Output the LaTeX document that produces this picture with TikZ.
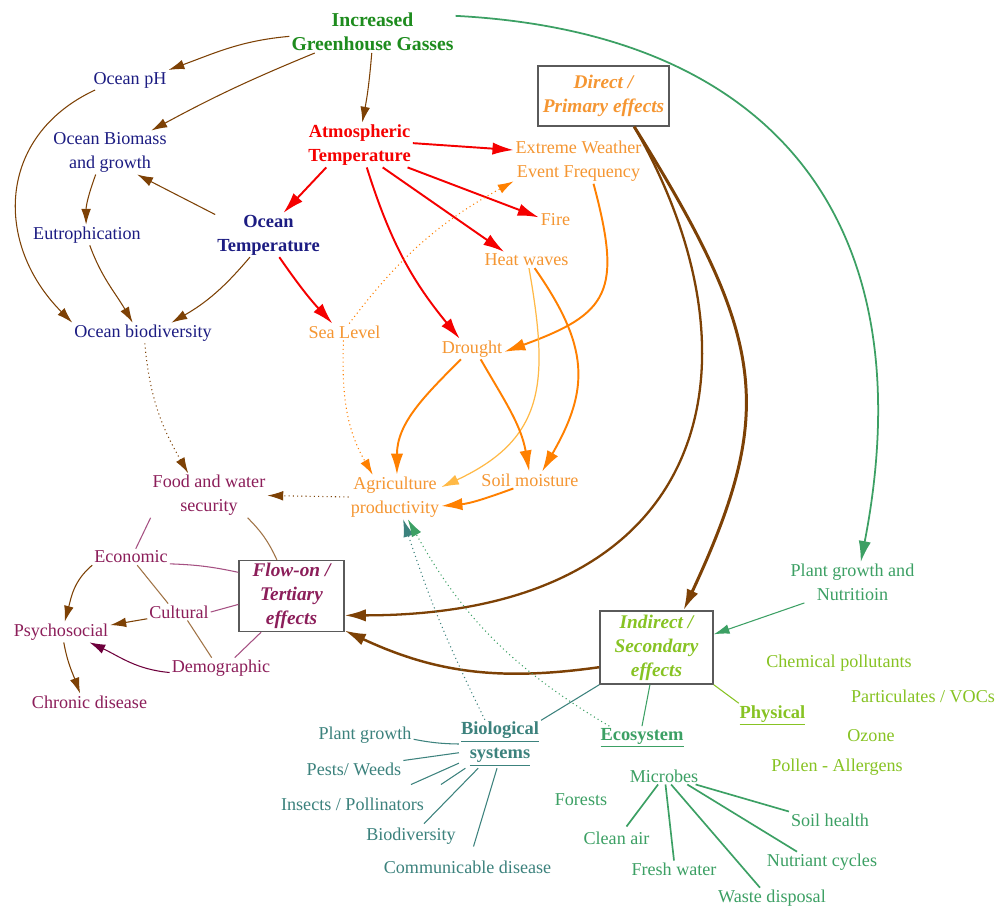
\documentclass[tikz,border=0pt]{standalone}
\usepackage{fontspec}
\setmainfont{Liberation Serif}
\usetikzlibrary{arrows.meta,calc}
\definecolor{ghgc}{RGB}{30,140,30}
\definecolor{navyc}{RGB}{28,28,130}
\definecolor{redc}{RGB}{245,0,0}
\definecolor{orangec}{RGB}{245,150,50}
\definecolor{orarr}{RGB}{255,128,0}
\definecolor{orlight}{RGB}{255,185,70}
\definecolor{brownc}{RGB}{125,65,5}
\definecolor{brownl}{RGB}{160,115,70}
\definecolor{purpc}{RGB}{140,30,90}
\definecolor{purpl}{RGB}{165,80,130}
\definecolor{purpd}{RGB}{110,0,60}
\definecolor{tealc}{RGB}{60,130,125}
\definecolor{ecoc}{RGB}{60,160,100}
\definecolor{ygc}{RGB}{135,195,35}
\definecolor{boxc}{RGB}{90,90,90}
\begin{document}
\begin{tikzpicture}[x=0.02cm,y=0.02cm,
  t/.style={inner sep=1pt,align=center,font=\fontsize{10.3}{13.6}\selectfont},
  tb/.style={inner sep=1pt,align=center,font=\fontsize{10.5}{13.6}\selectfont\bfseries},
  effbox/.style={draw=boxc,line width=0.8pt,fill=white,align=center,inner sep=1pt,
    font=\fontsize{11}{13.6}\selectfont\bfseries\itshape},
  tipbig/.style={-{Latex[length=12pt,width=7pt]}},
  tipmed/.style={-{Latex[length=9pt,width=5.5pt]}},
  tipdot/.style={-{Latex[length=10pt,width=6pt]}},
  thinbr/.style={draw=brownc,line width=0.6pt,tipmed},
  brline/.style={draw=brownl,line width=0.6pt},
  purline/.style={draw=purpl,line width=0.6pt},
  redarr/.style={draw=redc,line width=1.1pt,tipbig},
  orarrow/.style={draw=orarr,line width=1.1pt,tipbig},
  orlightarr/.style={draw=orlight,line width=0.7pt,-{Latex[length=10pt,width=6pt]}},
  ordot/.style={draw=orarr,line width=0.6pt,dash pattern=on 0.6pt off 1.8pt,tipmed},
  brdot/.style={draw=brownc,line width=0.6pt,dash pattern=on 0.6pt off 1.8pt,tipmed},
  tealdot/.style={draw=tealc,line width=0.6pt,dash pattern=on 0.6pt off 1.8pt,tipdot},
  ecodot/.style={draw=ecoc,line width=0.6pt,dash pattern=on 0.6pt off 1.8pt,tipdot},
  bigbr/.style={draw=brownc,tipbig},
  tealline/.style={draw=tealc,line width=0.6pt},
  ecoline/.style={draw=ecoc,line width=0.6pt},
  micline/.style={draw=ecoc,line width=0.95pt},
  ygline/.style={draw=ygc,line width=0.6pt}
]
\fill[white] (0,0) rectangle (998,-910);
\useasboundingbox (0,0) rectangle (998,-910);

% ---------- nodes ----------
\node[inner sep=1pt,align=center,font=\fontsize{11.2}{13.6}\selectfont\bfseries,text=ghgc] (ghg) at (372.5,-32) {Increased\\Greenhouse Gasses};
\node[t,text=navyc] (ph) at (130,-80) {Ocean pH};
\node[t,text=navyc] (biomass) at (110,-152.5) {Ocean Biomass\\and growth};
\node[t,text=navyc] (eutro) at (87,-235) {Eutrophication};
\node[t,text=navyc] (obio) at (143,-333) {Ocean biodiversity};
\node[tb,text=redc] (atm) at (359.5,-145) {Atmospheric\\Temperature};
\node[tb,text=navyc] (otemp) at (268.5,-235) {Ocean\\Temperature};
\node[t,text=orangec] (sea) at (344.5,-332) {Sea Level};
\node[t,text=orangec] (ext) at (578.5,-161.5) {Extreme Weather\\Event Frequency};
\node[t,text=orangec] (fire) at (555.5,-220) {Fire};
\node[t,text=orangec] (heat) at (526.5,-260) {Heat waves};
\node[t,text=orangec] (drought) at (472,-349) {Drought};
\node[t,text=orangec] (agri) at (395,-497) {Agriculture\\productivity};
\node[t,text=orangec] (soil) at (530,-480) {Soil moisture};
\node[effbox,text=orangec,minimum width=2.62cm,minimum height=1.2cm] (direct) at (603.5,-96) {Direct /\\Primary effects};

\node[t,text=purpc] (food) at (209,-495.5) {Food and water\\security};
\node[t,text=purpc] (econ) at (131,-557) {Economic};
\node[t,text=purpc] (cult) at (179,-612) {Cultural};
\node[t,text=purpc] (psycho) at (61,-632) {Psychosocial};
\node[t,text=purpc] (demo) at (221,-668) {Demographic};
\node[t,text=purpc] (chronic) at (89.5,-702) {Chronic disease};
\node[effbox,text=purpc,minimum width=2.1cm,minimum height=1.42cm] (flow) at (291.5,-596) {Flow-on /\\Tertiary\\effects};

\node[effbox,text=ygc,minimum width=2.26cm,minimum height=1.46cm] (indirect) at (656.5,-647.5) {Indirect /\\Secondary\\effects};
\node[t,text=ecoc] (plantn) at (852.5,-582.5) {Plant growth and\\Nutritioin};
\node[t,text=ygc] (chem) at (839,-663) {Chemical pollutants};
\node[t,text=ygc] (partic) at (923,-696) {Particulates / VOCs};
\node[t,text=ygc] (ozone) at (871,-736) {Ozone};
\node[t,text=ygc] (pollen) at (837,-767) {Pollen - Allergens};
\node[tb,text=ygc] (phys) at (772.5,-715.5) {\underline{Physical}};
\node[tb,text=ecoc] (eco) at (642,-738) {\underline{Ecosystem}};
\node[tb,text=tealc] (bio) at (500,-744) {\underline{Biological}\\\underline{systems}};

\node[t,text=tealc] (pg) at (365,-735) {Plant growth};
\node[t,text=tealc] (pests) at (354,-769) {Pests/ Weeds};
\node[t,text=tealc] (insects) at (352.5,-804) {Insects / Pollinators};
\node[t,text=tealc] (biodiv) at (411,-836) {Biodiversity};
\node[t,text=tealc] (comm) at (467.5,-867) {Communicable disease};

\node[t,text=ecoc] (microbes) at (664,-776) {Microbes};
\node[t,text=ecoc] (forests) at (581,-800) {Forests};
\node[t,text=ecoc] (cleanair) at (616.5,-838) {Clean air};
\node[t,text=ecoc] (fresh) at (674,-869) {Fresh water};
\node[t,text=ecoc] (waste) at (772,-898) {Waste disposal};
\node[t,text=ecoc] (nutr) at (822,-862) {Nutriant cycles};
\node[t,text=ecoc] (soilh) at (830,-820) {Soil health};

% ---------- ocean / greenhouse (brown thin) ----------
\draw[thinbr] (ghg.183) to[out=185,in=20] (ph.north east);
\draw[thinbr] (ghg.200) to[bend right=3] (biomass.28);
\draw[thinbr] (ghg.268) to[bend left=3] (atm.83);
\draw[thinbr] (ph.196) to[out=205,in=135,looseness=1.2] (obio.north west);
\draw[thinbr] (biomass.237) to[out=250,in=90] (eutro.95);
\draw[thinbr] (eutro.285) to[out=290,in=120] (obio.135);
\draw[thinbr] (otemp.159) -- (biomass.-39);
\draw[thinbr] (otemp.230) to[bend left=10] (obio.20);

% ---------- red ----------
\draw[redarr] (atm.214) -- (otemp.56);
\draw[redarr] (atm.2) -- (ext.170);
\draw[redarr] (atm.-25) -- (fire.171);
\draw[redarr] (atm.-44) -- (heat.160);
\draw[redarr] (atm.288) to[bend right=11] (drought.140);
\draw[redarr] (otemp.296) to[bend right=4] (sea.145);

% ---------- orange ----------
\draw[ordot] (sea.61) to[bend left=12] (ext.197);
\draw[ordot] (sea.263) to[out=268,in=120] (agri.135);
\draw[orarrow] (ext.-56) to[out=-75,in=20,looseness=1.5] (drought.-5);
\draw[orlightarr] (heat.287) to[out=-80,in=25,looseness=1.25] (agri.12);
\draw[orarrow] (heat.-45) to[out=-55,in=60,looseness=1.2] (soil.35);
\draw[orarrow] (drought.223) to[out=225,in=90] (agri.85);
\draw[orarrow] (drought.-50) to[out=-60,in=100] (soil.95);
\draw[orarrow] (soil.207) to[out=200,in=5] (agri.-11);

% ---------- brown dotted ----------
\draw[brdot] (agri.west) -- (food.east);
\draw[brdot] (obio.280) to[out=-85,in=120] (food.133);

% ---------- big brown ----------
\draw[bigbr,line width=1.3pt] (direct.-45) to[out=-60,in=0,out distance=5.4cm,in distance=7.4cm] (flow.-20);
\draw[bigbr,line width=1.7pt] (direct.-45) to[out=-58,in=65,out distance=5cm,in distance=4.4cm] (indirect.54);
\draw[bigbr,line width=1.4pt] (indirect.199) to[out=188,in=-25] (flow.-33);

% ---------- green ----------
\draw[draw=ecoc,line width=1pt,tipbig] (ghg.11) to[out=-3,in=79,looseness=1.25] (plantn.68);
\draw[draw=ecoc,line width=0.6pt,tipmed] (plantn.203) -- (indirect.13);
\draw[ygline] (indirect.south east) -- (phys.160);
\draw[ecoline] (indirect.260) -- (eco.north);
\draw[tealline] (indirect.south west) -- (bio.30);
\draw[tealdot] (bio.122) to[bend left=4] (agri.-70);
\draw[ecodot] (eco.160) to[bend left=15] (agri.-60);

% ---------- tertiary ----------
\draw[purline] (food.south west) -- (econ.60);
\draw[brline] (food.-30) to[bend left=10] (flow.112);
\draw[purline] (econ.-10) to[bend left=5] (flow.156);
\draw[purline] (cult.east) -- (flow.189);
\draw[purline] (demo.37) -- (flow.230);
\draw[thinbr] (econ.south west) to[out=220,in=75] (psycho.70);
\draw[brline] (econ.-53) -- (cult.142);
\draw[thinbr] (cult.192) -- (psycho.8);
\draw[brline] (cult.-45) -- (demo.132);
\draw[draw=purpd,line width=0.6pt,tipmed] (demo.185) to[out=175,in=-25] (psycho.-20);
\draw[thinbr] (psycho.-75) to[out=-80,in=110] (chronic.138);

% ---------- biological ----------
\draw[tealline] (pg.-5) to[bend right=5] (bio.180);
\draw[tealline] (pests.north east) -- (bio.192);
\draw[tealline] ([shift={(-15,11)}]insects.north east) -- (bio.205);
\draw[tealline] ([shift={(15,11)}]insects.north east) -- (bio.215);
\draw[tealline] ([shift={(13,2)}]biodiv.north) -- (bio.228);
\draw[tealline] ([shift={(6,12)}]comm.north) -- (bio.263);

% ---------- microbes ----------
\draw[micline] (microbes.235) -- ([shift={(10,3)}]cleanair.north);
\draw[micline] (microbes.-80) -- (fresh.north);
\draw[micline] (microbes.-50) -- ([shift={(-12,0)}]waste.north);
\draw[micline] (microbes.-20) -- ([shift={(-25,0)}]nutr.north);
\draw[micline] (microbes.-15) -- (soilh.north west);
\end{tikzpicture}
\end{document}
